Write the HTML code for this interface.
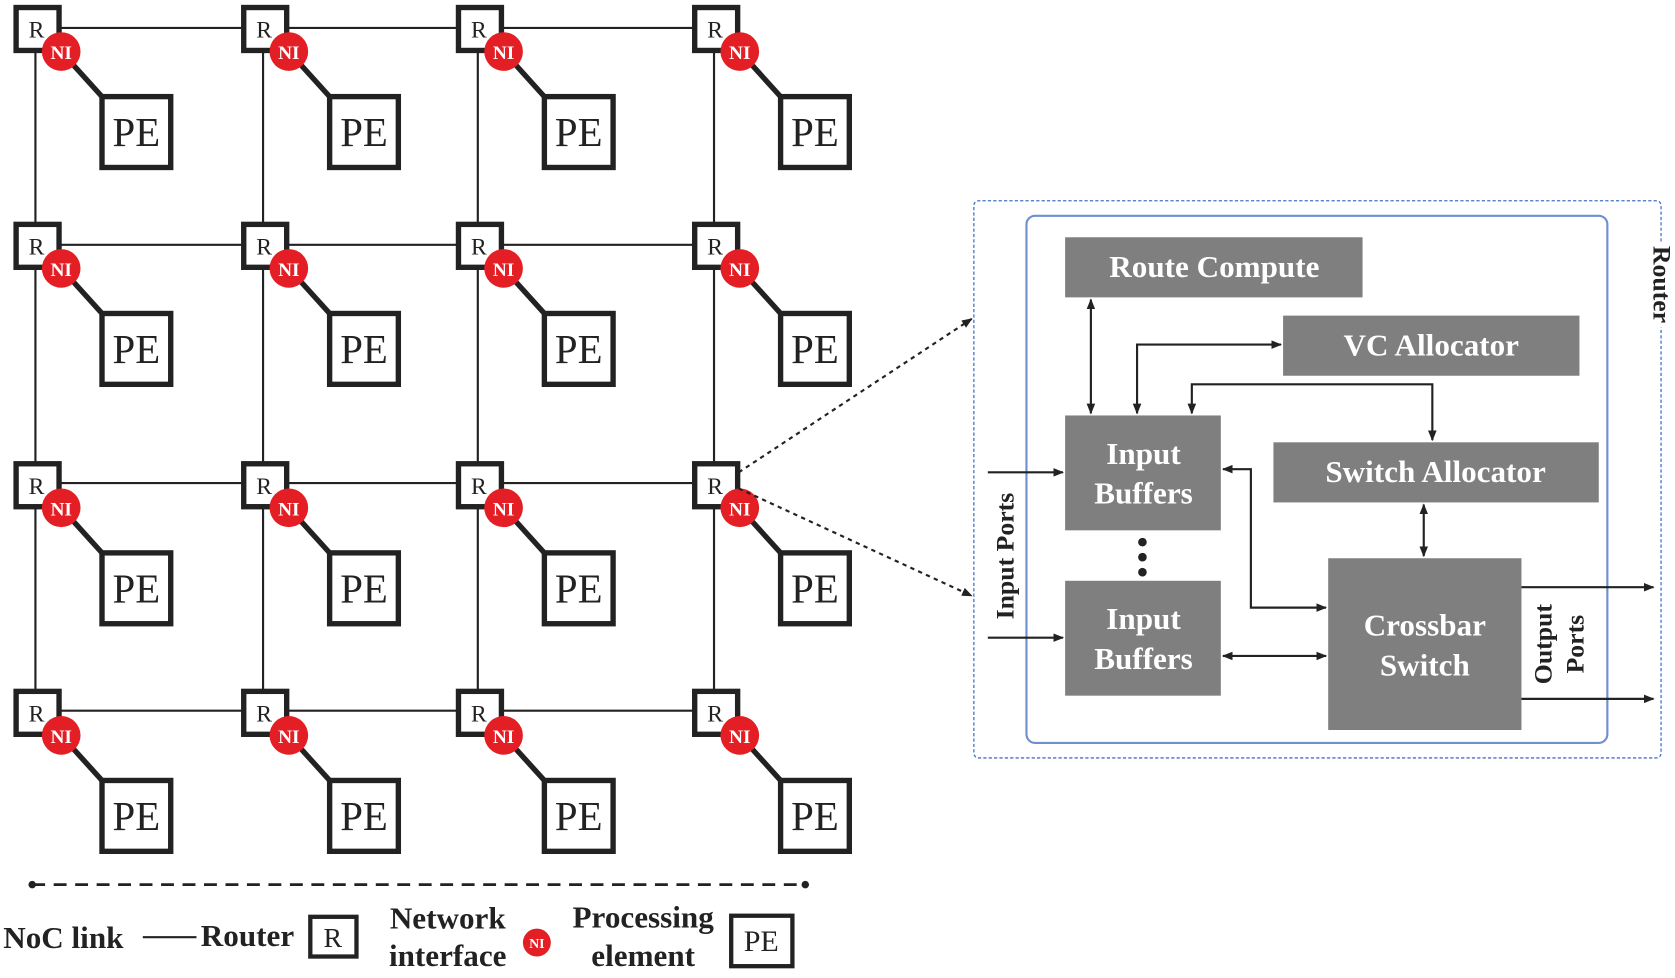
<!DOCTYPE html>
<html><head><meta charset="utf-8"><style>html,body{margin:0;padding:0;background:#fff}svg{display:block}</style></head>
<body>
<svg width="1675" height="978" viewBox="0 0 1560 911" preserveAspectRatio="none" xmlns="http://www.w3.org/2000/svg" font-family="Liberation Serif, serif">
<defs>
<marker id="a" markerWidth="10" markerHeight="8" refX="9" refY="4" orient="auto-start-reverse" markerUnits="userSpaceOnUse"><path d="M0,0 L10,4 L0,8 z" fill="#222"/></marker>
<style>
.l{stroke:#222;stroke-width:5}
.r{fill:#fff;stroke:#222;stroke-width:5}
.rt{font-size:22px;fill:#222;text-anchor:middle}
.pt{font-size:38px;fill:#222;text-anchor:middle}
.n{fill:#e31e24}
.nt{font-size:18px;font-weight:bold;fill:#fff;text-anchor:middle}
</style>
</defs>
<g stroke="#222" stroke-width="2" fill="none">
<line x1="33" y1="26" x2="665" y2="26"/><line x1="33" y1="228" x2="665" y2="228"/>
<line x1="33" y1="450" x2="665" y2="450"/><line x1="33" y1="662" x2="665" y2="662"/>
<line x1="33" y1="26" x2="33" y2="662"/><line x1="245" y1="26" x2="245" y2="662"/>
<line x1="445" y1="26" x2="445" y2="662"/><line x1="665" y1="26" x2="665" y2="662"/>
</g>
<g transform="translate(13,5)"><line class="l" x1="44" y1="43" x2="82" y2="85"/><rect class="r" x="2" y="2" width="40" height="40"/><text class="rt" x="21" y="30">R</text><rect class="r" x="82" y="85" width="64" height="66"/><text class="pt" x="114" y="131">PE</text><circle class="n" cx="44" cy="43" r="18"/><text class="nt" x="44" y="50">NI</text></g>
<g transform="translate(225,5)"><line class="l" x1="44" y1="43" x2="82" y2="85"/><rect class="r" x="2" y="2" width="40" height="40"/><text class="rt" x="21" y="30">R</text><rect class="r" x="82" y="85" width="64" height="66"/><text class="pt" x="114" y="131">PE</text><circle class="n" cx="44" cy="43" r="18"/><text class="nt" x="44" y="50">NI</text></g>
<g transform="translate(425,5)"><line class="l" x1="44" y1="43" x2="82" y2="85"/><rect class="r" x="2" y="2" width="40" height="40"/><text class="rt" x="21" y="30">R</text><rect class="r" x="82" y="85" width="64" height="66"/><text class="pt" x="114" y="131">PE</text><circle class="n" cx="44" cy="43" r="18"/><text class="nt" x="44" y="50">NI</text></g>
<g transform="translate(645,5)"><line class="l" x1="44" y1="43" x2="82" y2="85"/><rect class="r" x="2" y="2" width="40" height="40"/><text class="rt" x="21" y="30">R</text><rect class="r" x="82" y="85" width="64" height="66"/><text class="pt" x="114" y="131">PE</text><circle class="n" cx="44" cy="43" r="18"/><text class="nt" x="44" y="50">NI</text></g>
<g transform="translate(13,207)"><line class="l" x1="44" y1="43" x2="82" y2="85"/><rect class="r" x="2" y="2" width="40" height="40"/><text class="rt" x="21" y="30">R</text><rect class="r" x="82" y="85" width="64" height="66"/><text class="pt" x="114" y="131">PE</text><circle class="n" cx="44" cy="43" r="18"/><text class="nt" x="44" y="50">NI</text></g>
<g transform="translate(225,207)"><line class="l" x1="44" y1="43" x2="82" y2="85"/><rect class="r" x="2" y="2" width="40" height="40"/><text class="rt" x="21" y="30">R</text><rect class="r" x="82" y="85" width="64" height="66"/><text class="pt" x="114" y="131">PE</text><circle class="n" cx="44" cy="43" r="18"/><text class="nt" x="44" y="50">NI</text></g>
<g transform="translate(425,207)"><line class="l" x1="44" y1="43" x2="82" y2="85"/><rect class="r" x="2" y="2" width="40" height="40"/><text class="rt" x="21" y="30">R</text><rect class="r" x="82" y="85" width="64" height="66"/><text class="pt" x="114" y="131">PE</text><circle class="n" cx="44" cy="43" r="18"/><text class="nt" x="44" y="50">NI</text></g>
<g transform="translate(645,207)"><line class="l" x1="44" y1="43" x2="82" y2="85"/><rect class="r" x="2" y="2" width="40" height="40"/><text class="rt" x="21" y="30">R</text><rect class="r" x="82" y="85" width="64" height="66"/><text class="pt" x="114" y="131">PE</text><circle class="n" cx="44" cy="43" r="18"/><text class="nt" x="44" y="50">NI</text></g>
<g transform="translate(13,430)"><line class="l" x1="44" y1="43" x2="82" y2="85"/><rect class="r" x="2" y="2" width="40" height="40"/><text class="rt" x="21" y="30">R</text><rect class="r" x="82" y="85" width="64" height="66"/><text class="pt" x="114" y="131">PE</text><circle class="n" cx="44" cy="43" r="18"/><text class="nt" x="44" y="50">NI</text></g>
<g transform="translate(225,430)"><line class="l" x1="44" y1="43" x2="82" y2="85"/><rect class="r" x="2" y="2" width="40" height="40"/><text class="rt" x="21" y="30">R</text><rect class="r" x="82" y="85" width="64" height="66"/><text class="pt" x="114" y="131">PE</text><circle class="n" cx="44" cy="43" r="18"/><text class="nt" x="44" y="50">NI</text></g>
<g transform="translate(425,430)"><line class="l" x1="44" y1="43" x2="82" y2="85"/><rect class="r" x="2" y="2" width="40" height="40"/><text class="rt" x="21" y="30">R</text><rect class="r" x="82" y="85" width="64" height="66"/><text class="pt" x="114" y="131">PE</text><circle class="n" cx="44" cy="43" r="18"/><text class="nt" x="44" y="50">NI</text></g>
<g transform="translate(645,430)"><line class="l" x1="44" y1="43" x2="82" y2="85"/><rect class="r" x="2" y="2" width="40" height="40"/><text class="rt" x="21" y="30">R</text><rect class="r" x="82" y="85" width="64" height="66"/><text class="pt" x="114" y="131">PE</text><circle class="n" cx="44" cy="43" r="18"/><text class="nt" x="44" y="50">NI</text></g>
<g transform="translate(13,642)"><line class="l" x1="44" y1="43" x2="82" y2="85"/><rect class="r" x="2" y="2" width="40" height="40"/><text class="rt" x="21" y="30">R</text><rect class="r" x="82" y="85" width="64" height="66"/><text class="pt" x="114" y="131">PE</text><circle class="n" cx="44" cy="43" r="18"/><text class="nt" x="44" y="50">NI</text></g>
<g transform="translate(225,642)"><line class="l" x1="44" y1="43" x2="82" y2="85"/><rect class="r" x="2" y="2" width="40" height="40"/><text class="rt" x="21" y="30">R</text><rect class="r" x="82" y="85" width="64" height="66"/><text class="pt" x="114" y="131">PE</text><circle class="n" cx="44" cy="43" r="18"/><text class="nt" x="44" y="50">NI</text></g>
<g transform="translate(425,642)"><line class="l" x1="44" y1="43" x2="82" y2="85"/><rect class="r" x="2" y="2" width="40" height="40"/><text class="rt" x="21" y="30">R</text><rect class="r" x="82" y="85" width="64" height="66"/><text class="pt" x="114" y="131">PE</text><circle class="n" cx="44" cy="43" r="18"/><text class="nt" x="44" y="50">NI</text></g>
<g transform="translate(645,642)"><line class="l" x1="44" y1="43" x2="82" y2="85"/><rect class="r" x="2" y="2" width="40" height="40"/><text class="rt" x="21" y="30">R</text><rect class="r" x="82" y="85" width="64" height="66"/><text class="pt" x="114" y="131">PE</text><circle class="n" cx="44" cy="43" r="18"/><text class="nt" x="44" y="50">NI</text></g>
<g stroke="#222" stroke-width="2" stroke-dasharray="4,4" fill="none">
<line x1="688" y1="440" x2="905" y2="297" marker-end="url(#a)"/>
<line x1="688" y1="455" x2="905" y2="555" marker-end="url(#a)"/>
</g>
<path d="M1547,225 L1547,192 Q1547,187 1542,187 L912,187 Q907,187 907,192 L907,701 Q907,706 912,706 L1542,706 Q1547,706 1547,701 L1547,305" fill="none" stroke="#4472c4" stroke-width="1.2" stroke-dasharray="3,2"/>
<rect x="956" y="201" width="541" height="491" rx="8" fill="none" stroke="#6f8fcf" stroke-width="2"/>
<text transform="translate(1540,265) rotate(90)" font-size="24" font-weight="bold" text-anchor="middle" fill="#222">Router</text>
<g fill="#7f7f80">
<rect x="992" y="221" width="277" height="56"/><rect x="1195" y="294" width="276" height="56"/>
<rect x="992" y="387" width="145" height="107"/><rect x="1186" y="412" width="303" height="56"/>
<rect x="992" y="541" width="145" height="107"/><rect x="1237" y="520" width="180" height="160"/>
</g>
<g fill="#fff" font-weight="bold" font-size="29" text-anchor="middle">
<text x="1131" y="258">Route Compute</text><text x="1333" y="331">VC Allocator</text>
<text x="1065" y="432">Input</text><text x="1065" y="469">Buffers</text>
<text x="1337" y="449">Switch Allocator</text>
<text x="1065" y="586">Input</text><text x="1065" y="623">Buffers</text>
<text x="1327" y="592">Crossbar</text><text x="1327" y="629">Switch</text>
</g>
<g fill="#222"><circle cx="1064" cy="505" r="4"/><circle cx="1064" cy="519" r="4"/><circle cx="1064" cy="533" r="4"/></g>
<g stroke="#222" stroke-width="2" fill="none">
<line x1="1016" y1="279" x2="1016" y2="385" marker-start="url(#a)" marker-end="url(#a)"/>
<path d="M1059,385 L1059,321 L1193,321" marker-start="url(#a)" marker-end="url(#a)"/>
<path d="M1110,385 L1110,358 L1334,358 L1334,410" marker-start="url(#a)" marker-end="url(#a)"/>
<path d="M1139,437 L1165,437 L1165,566 L1235,566" marker-start="url(#a)" marker-end="url(#a)"/>
<line x1="1326" y1="470" x2="1326" y2="518" marker-start="url(#a)" marker-end="url(#a)"/>
<line x1="1139" y1="611" x2="1235" y2="611" marker-start="url(#a)" marker-end="url(#a)"/>
<line x1="920" y1="440" x2="990" y2="440" marker-end="url(#a)"/>
<line x1="920" y1="594" x2="990" y2="594" marker-end="url(#a)"/>
<line x1="1417" y1="547" x2="1540" y2="547" marker-end="url(#a)"/>
<line x1="1417" y1="651" x2="1540" y2="651" marker-end="url(#a)"/>
</g>
<g font-weight="bold" font-size="24" fill="#222" text-anchor="middle">
<text transform="translate(944,518) rotate(-90)">Input Ports</text>
<text transform="translate(1445,600) rotate(-90)">Output</text>
<text transform="translate(1475,600) rotate(-90)">Ports</text>
</g>
<line x1="30" y1="824" x2="750" y2="824" stroke="#222" stroke-width="2.5" stroke-dasharray="12,8"/>
<circle cx="30" cy="824" r="3.5" fill="#222"/><circle cx="750" cy="824" r="3.5" fill="#222"/>
<g font-weight="bold" font-size="29" fill="#222">
<text x="3" y="883">NoC link</text>
<line x1="133" y1="873" x2="183" y2="873" stroke="#222" stroke-width="2"/>
<text x="187" y="881">Router</text>
<text x="417" y="865" text-anchor="middle">Network</text><text x="417" y="900" text-anchor="middle">interface</text>
<text x="599" y="864" text-anchor="middle">Processing</text><text x="599" y="900" text-anchor="middle">element</text>
</g>
<rect x="289" y="854" width="43" height="37" fill="#fff" stroke="#222" stroke-width="4"/>
<text x="310" y="882" font-size="26" text-anchor="middle" fill="#222">R</text>
<circle cx="500" cy="878" r="13" fill="#e31e24"/>
<text x="500" y="883" font-size="13" font-weight="bold" text-anchor="middle" fill="#fff">NI</text>
<rect x="681" y="853" width="57" height="47" fill="#fff" stroke="#222" stroke-width="4"/>
<text x="709" y="886" font-size="28" text-anchor="middle" fill="#222">PE</text>
</svg>
</body></html>
